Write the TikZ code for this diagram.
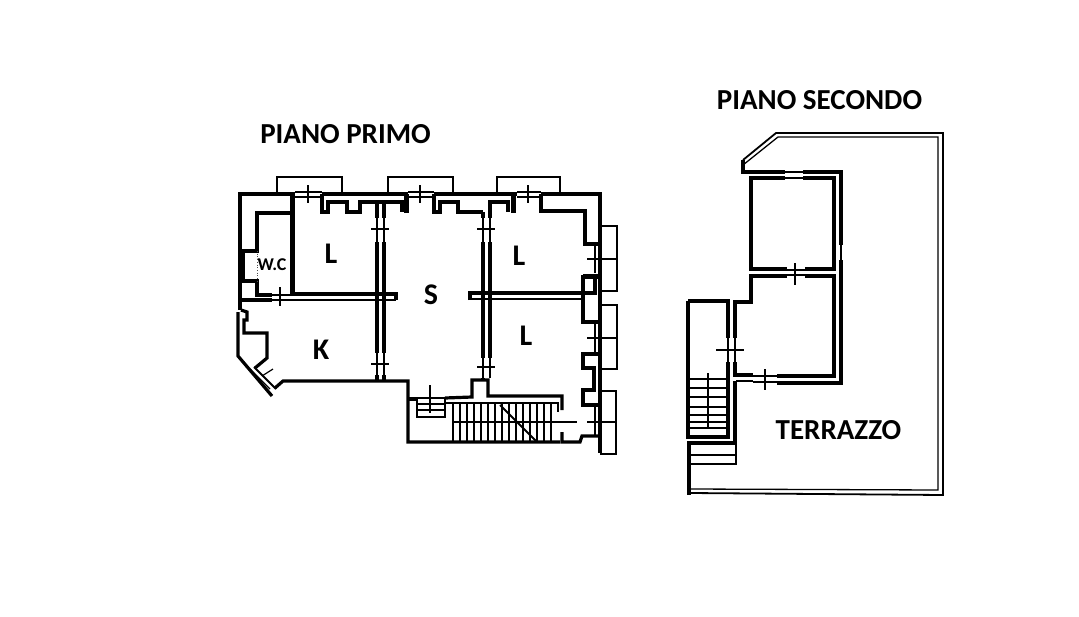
\documentclass[tikz,border=0pt]{standalone}
\usepackage{fontspec}
\setmainfont{Carlito}
\tikzset{
	wall/.style={draw=black,line width=3.2pt,line join=miter},
	heavywall/.style={draw=black,line width=5pt},
	thinwall/.style={draw=black,line width=1.3pt},
	hairwall/.style={draw=black!70,line width=.7pt},
	doortick/.style={draw=black,line width=1.2pt},
	planlabel/.style={font=\bfseries\fontsize{29}{29}\selectfont},
	roomlabel/.style={font=\bfseries\fontsize{30}{30}\selectfont},
}
\begin{document}
\begin{tikzpicture}[x=1pt,y=-1pt]
\useasboundingbox (0,0) rectangle (1079,616);
\node[planlabel] (primo)    at (345.5,134) {PIANO PRIMO};
\node[planlabel] (secondo)  at (819.5,100) {PIANO SECONDO};
\node[planlabel] (terrazzo) at (838.5,430) {TERRAZZO};
\node[roomlabel] (lone)     at (331,254)   {L};
\node[roomlabel] (ltwo)     at (519,256)   {L};
\node[roomlabel] (lthree)   at (526,336)   {L};
\node[roomlabel] (soggiorno) at (431,295)  {S};
\node[roomlabel] (cucina)   at (321,350)   {K};
\node[font=\bfseries\fontsize{18}{18}\selectfont] (wc) at (272,265) {W.C};
%-first floor, outer walls-%
\draw[wall] (295,194) -- (240,194) -- (240,310);
\draw[wall] (322,194) -- (408,194);
\draw[wall] (434,194) -- (517,194);
\draw[wall] (541,194) -- (600,194) -- (600,453);
\draw[wall] (238,312) -- (238,356) -- (272,396);
\draw[wall] (275,388) -- (283,381) -- (408,381) -- (408,442) -- (560,442);
\draw[wall] (408,399) -- (417,399);
\draw[wall] (445,398) -- (472,397) -- (472,380) -- (488,380) -- (488,396) -- (562,396) -- (562,410);
\draw[wall] (562,432) -- (562,442) -- (580,442) -- (582,436) -- (600,436);
%-wc-%
\draw[wall] (292,213) -- (257,213) -- (257,251) -- (241,251);
\draw[wall] (241,281) -- (257,281) -- (257,295) -- (272,295);
\draw[heavywall] (242,251) -- (242,281);
\draw[heavywall] (292,194) -- (292,296);
\draw[wall] (240,300) -- (272,300);
\draw[hairwall,dotted] (257,251) -- (257,281);
%-kitchen corner-%
\draw[wall] (241,310) -- (247,312) -- (247,320) -- (244,320) -- (244,333) -- (267,333) -- (267,358) -- (255,368);
\draw[thinwall,line width=2pt] (254,367) -- (276,389);
\draw[thinwall] (250,369) -- (270,389);
\draw[doortick] (262,376) -- (273,369);
%-partitions-%
\draw[wall] (292,294) -- (396,294) -- (396,300);
\draw[thinwall,line width=2pt] (292,300) -- (396,300);
\draw[thinwall] (272,300) -- (292,300) (272,295) -- (292,295);
\draw[wall] (470,300) -- (470,293) -- (595,293) -- (595,275);
\draw[thinwall,line width=2pt] (470,299) -- (583,299);
\draw[wall] (377,242) -- (377,353) (384,242) -- (384,353);
\draw[wall] (377,375) -- (377,381) (384,375) -- (384,381);
\draw[wall] (483,242) -- (483,358) (490,242) -- (490,358);
\draw[wall] (483,378) -- (483,381);
\draw[wall] (377,203) -- (377,218) (384,203) -- (384,218);
\draw[wall] (483,212) -- (483,218) (490,212) -- (490,218);
%-niches on the top wall-%
\draw[wall] (322,194) -- (322,212) -- (328,212) -- (328,202) -- (347,202) -- (347,212) -- (360,212) -- (360,202) -- (384,202) -- (402,202) -- (402,212);
\draw[heavywall] (406,194) -- (406,213);
\draw[wall] (434,194) -- (434,212) -- (440,212) -- (440,202) -- (458,202) -- (458,212) -- (483,212);
\draw[wall] (490,212) -- (490,202) -- (508,202) -- (508,212);
\draw[heavywall] (513,194) -- (513,213);
%-right side-%
\draw[wall] (541,194) -- (541,211) -- (585,211) -- (585,244) -- (600,244);
\draw[heavywall] (583,276) -- (598,276);
\draw[wall] (583,275) -- (583,322) -- (600,322);
\draw[wall] (600,354) -- (583,354) -- (583,368) -- (594,368) -- (594,390) -- (583,390) -- (583,405) -- (600,405);
%-balconies-%
\draw[thinwall] (277,194) -- (277,177) -- (342,177) -- (342,194);
\draw[thinwall] (388,194) -- (388,177) -- (453,177) -- (453,194);
\draw[thinwall] (497,194) -- (497,177) -- (560,177) -- (560,194);
\draw[thinwall] (600,226) -- (617,226) -- (617,291) -- (600,291);
\draw[thinwall] (600,305) -- (617,305) -- (617,369) -- (600,369);
\draw[thinwall] (600,391) -- (616,391) -- (616,454) -- (600,454);
%-openings-%
\foreach \xa/\xb/\xc in {295/322/308,408/434/420,517/541/528}{
	\draw[thinwall] (\xa,192) -- (\xb,192) (\xa,197) -- (\xb,197);
	\draw[doortick] (\xc,185) -- (\xc,203);
}
\foreach \xa/\xb/\ya/\yb/\yc in {377/384/218/242/229,377/384/353/375/364,483/490/218/242/229,483/490/358/378/367}{
	\draw[thinwall] (\xa,\ya) -- (\xa,\yb) (\xb,\ya) -- (\xb,\yb);
	\draw[doortick] (\xa-6,\yc) -- (\xb+5,\yc);
}
\foreach \ya/\yb/\yc in {244/273/259,322/354/338,405/436/422}{
	\draw[thinwall] (595,\ya) -- (595,\yb);
	\draw[doortick] (587,\yc) -- (616,\yc);
}
\draw[doortick] (280,287) -- (280,306);
%-stairs first floor-%
\draw[thinwall] (445,403) -- (558,403) -- (558,412);
\draw[thinwall] (417,398) -- (445,398) (417,404) -- (445,404);
\draw[thinwall] (417,399) -- (417,417) -- (445,417) -- (445,399) (417,410) -- (445,410);
\draw[doortick] (430,385) -- (430,413);
\foreach \xa in {453,460,...,551}{
	\draw[thinwall] (\xa,404) -- (\xa,442);
}
\draw[thinwall] (453,422) -- (577,422);
\draw[thinwall,line width=1.8pt] (500,405) -- (537,442);
%-second floor, terrace-%
\draw[thinwall,line width=1.8pt] (743,160) -- (776,133) -- (943,133) -- (943,495) -- (690,493);
\draw[thinwall] (743,165) -- (778,137) -- (938,137) -- (938,490) -- (690,489);
%-second floor, rooms-%
\draw[wall] (743,160) -- (743,172) -- (785,172);
\draw[wall] (803,172) -- (841,172) -- (841,245);
\draw[wall] (841,260) -- (841,383) -- (777,383);
\draw[wall] (785,178) -- (751,178) -- (751,269) -- (787,269);
\draw[wall] (803,178) -- (834,178) -- (834,269) -- (805,269);
\draw[wall] (787,276) -- (751,276) -- (751,302) -- (735,302) -- (735,338);
\draw[wall] (805,276) -- (834,276) -- (834,376) -- (777,376);
\draw[wall] (735,362) -- (735,375) -- (753,375);
\draw[thinwall] (736,381) -- (753,381);
\draw[wall] (688,301) -- (728,301) -- (728,338);
\draw[wall] (728,362) -- (728,437) -- (688,437) -- (688,301);
\draw[wall] (735,381) -- (735,443) -- (689,443) -- (689,495);
%-second floor, openings-%
\draw[thinwall] (785,172) -- (803,172) (785,178) -- (803,178);
\draw[thinwall] (841,245) -- (841,260) (834,245) -- (834,260);
\draw[thinwall] (787,270) -- (805,270) (787,275) -- (805,275);
\draw[doortick] (795,263) -- (795,285);
\draw[thinwall] (728,338) -- (728,362) (735,338) -- (735,362);
\draw[doortick] (716,350) -- (744,350);
\draw[thinwall] (753,376) -- (777,376) (753,382) -- (777,382);
\draw[doortick] (765,369) -- (765,390);
%-second floor, stairs-%
\foreach \ya in {379,388,397,407,415,422,428}{
	\draw[thinwall] (690,\ya) -- (727,\ya);
}
\draw[doortick] (708,373) -- (708,428);
\draw[thinwall] (690,455) -- (736,455) (690,464) -- (736,464) -- (736,443);
\end{tikzpicture}
\end{document}
